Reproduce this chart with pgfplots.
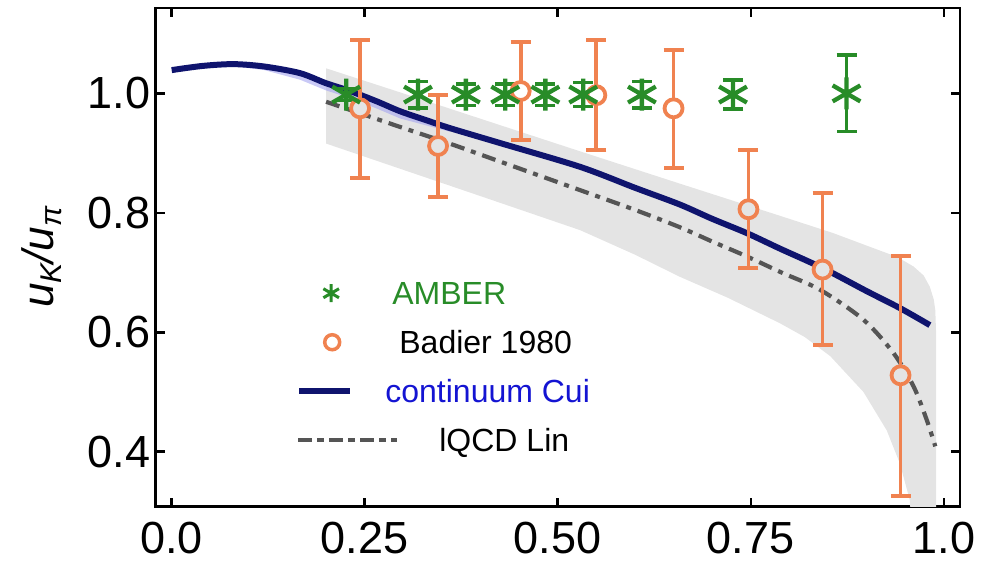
\documentclass[border=0pt]{standalone}
\usepackage{fontspec}
\setmainfont{Liberation Sans}
\usepackage{pgfplots}
\pgfplotsset{compat=1.18}
\definecolor{amber}{RGB}{40,140,40}
\definecolor{badier}{RGB}{240,130,80}
\definecolor{cuinavy}{RGB}{15,20,110}
\definecolor{cuitext}{RGB}{20,20,210}
\definecolor{bandgray}{RGB}{228,228,228}
\definecolor{lqcd}{RGB}{85,85,85}
\definecolor{bandblue}{RGB}{165,165,240}
\begin{document}
\begin{tikzpicture}
\useasboundingbox (-155.7pt,-57.3pt) rectangle (830.3pt,506.7pt);
\begin{axis}[
  at={(0pt,0pt)}, anchor=south west,
  scale only axis, width=804.3pt, height=498.7pt,
  xmin=-0.0207, xmax=1.021, ymin=0.308, ymax=1.143,
  axis line style={line width=2.7pt},
  tick align=inside, major tick length=9pt,
  every tick/.style={black, line width=2.5pt},
  xtick={0,0.25,0.5,0.75,1}, xticklabels={0.0,0.25,0.50,0.75,1.0},
  ytick={0.4,0.6,0.8,1.0}, yticklabels={0.4,0.6,0.8,1.0},
  ticklabel style={font=\fontsize{45}{50}\selectfont},
  xticklabel style={yshift=-12pt},
  yticklabel style={xshift=-2pt},
  ylabel={\fontsize{44}{44}\selectfont\itshape u\raisebox{-8pt}{\fontsize{30}{30}\selectfont K}/u\raisebox{-8pt}{\fontsize{30}{30}\selectfont π}},
  every axis y label/.style={at={(rel axis cs:-0.1414,0.5)}, rotate=90, anchor=center},
  legend style={at={(axis cs:0.161,0.685)}, anchor=north west, draw=none, fill=none,
    inner sep=0pt, row sep=26pt, column sep=0pt,
    nodes={inner sep=0pt, text height=23pt, text depth=0pt},
    font=\fontsize{32}{32}\selectfont},
  legend cell align=left,
]
% lQCD uncertainty band
\addplot[draw=none, fill=bandgray, forget plot] coordinates {
(0.2,0.916)(0.2,1.042)(0.3,1.000)(0.425,0.947)(0.529,0.903)(0.658,0.849)(0.788,0.795)(0.857,0.766)(0.917,0.737)(0.94,0.726)(0.961,0.710)(0.974,0.695)(0.982,0.676)(0.987,0.655)(0.989,0.637)(0.99,0.6)(0.99,0.28)
(0.958,0.28)(0.956,0.319)(0.943,0.381)(0.926,0.436)(0.896,0.500)(0.853,0.560)(0.82,0.592)(0.788,0.615)(0.72,0.658)(0.658,0.693)(0.6,0.730)(0.529,0.771)(0.4,0.828)(0.3,0.872)} --cycle;
% continuum uncertainty band
\addplot[draw=none, fill=bandblue, fill opacity=0.6, forget plot] coordinates {
(0.06,1.049)(0.12,1.045)(0.166,1.034)(0.2,1.017)(0.231,1.004)(0.265,0.987)(0.296,0.970)(0.36,0.946)
(0.36,0.936)(0.296,0.958)(0.265,0.975)(0.231,0.992)(0.2,1.005)(0.166,1.023)(0.12,1.039)} --cycle;
% lQCD Lin
\addplot[lqcd, line width=4.2pt, dash pattern=on 14pt off 7pt on 5pt off 7pt, smooth, forget plot] coordinates {
(0.2,0.986)(0.25,0.964)(0.3,0.942)(0.36,0.916)(0.425,0.886)(0.529,0.838)(0.6,0.805)(0.658,0.776)(0.7,0.752)(0.745,0.727)(0.79,0.700)(0.84,0.671)(0.896,0.621)(0.935,0.565)(0.961,0.509)(0.978,0.453)(0.989,0.409)};
% continuum Cui
\addplot[cuinavy, line width=6pt, smooth, forget plot] coordinates {
(0,1.039)(0.04,1.046)(0.08,1.049)(0.12,1.045)(0.166,1.034)(0.2,1.017)(0.231,1.004)(0.265,0.987)(0.296,0.970)(0.33,0.955)(0.36,0.942)(0.425,0.917)(0.529,0.877)(0.6,0.842)(0.658,0.814)(0.7,0.790)(0.745,0.766)(0.788,0.740)(0.844,0.707)(0.9,0.669)(0.944,0.640)(0.982,0.612)};
% Badier 1980 (points inside the band)
\addplot[badier, only marks, mark=*, mark size=9pt, line width=3.8pt,
  mark options={fill=bandgray, draw=badier, line width=3.8pt}, forget plot,
  error bars/.cd, y dir=both, y explicit,
  error bar style={line width=3.8pt, badier},
  error mark options={rotate=90, mark size=10pt, line width=3.8pt, badier}]
  table[x=x, y=y, y error plus=ep, y error minus=em] {
x y ep em
0.244 0.975 0.114 0.116
0.345 0.912 0.085 0.085
0.747 0.806 0.099 0.098
0.843 0.705 0.128 0.126
0.944 0.528 0.200 0.202
};
% Badier 1980 (points above the band)
\addplot[badier, only marks, mark=*, mark size=9pt, line width=3.8pt,
  mark options={fill=white, draw=badier, line width=3.8pt}, forget plot,
  error bars/.cd, y dir=both, y explicit,
  error bar style={line width=3.8pt, badier},
  error mark options={rotate=90, mark size=10pt, line width=3.8pt, badier}]
  table[x=x, y=y, y error plus=ep, y error minus=em] {
x y ep em
0.452 1.004 0.082 0.082
0.550 0.997 0.092 0.092
0.650 0.975 0.097 0.100
};
% AMBER
\addplot[amber, only marks, mark=asterisk, mark size=16pt, line width=4.3pt, forget plot,
  error bars/.cd, y dir=both, y explicit,
  error bar style={line width=3.6pt, amber},
  error mark options={rotate=90, mark size=10pt, line width=3.6pt, amber}]
  table[x=x, y=y, y error plus=e, y error minus=e] {
x y e
0.226 0.998 0.010
0.319 0.998 0.022
0.381 0.998 0.018
0.432 0.998 0.018
0.484 0.998 0.018
0.533 0.998 0.020
0.609 0.998 0.022
0.727 0.998 0.024
0.874 1.000 0.064
};
% legend
\addlegendimage{legend image code/.code={\path (0pt,0pt) (87pt,0pt);
  \draw[amber, line width=3pt] plot[only marks, mark=asterisk, mark size=9pt] coordinates {(33pt,0pt)};}}
\addlegendentry{\hspace{7pt}\textcolor{amber}{AMBER}}
\addlegendimage{legend image code/.code={\path (0pt,0pt) (87pt,0pt);
  \draw[badier, line width=3.5pt] (34pt,0pt) circle (7.5pt);}}
\addlegendentry{\hspace{14pt}Badier 1980}
\addlegendimage{legend image code/.code={\path (0pt,0pt) (87pt,0pt);
  \draw[cuinavy, line width=6pt] (1pt,0pt) -- (52pt,0pt);}}
\addlegendentry{\textcolor{cuitext}{continuum Cui}}
\addlegendimage{legend image code/.code={\path (0pt,0pt) (87pt,0pt);
  \draw[overlay, lqcd, line width=4pt, dash pattern=on 14pt off 5pt on 7pt off 5pt] (0pt,0pt) -- (99pt,0pt);}}
\addlegendentry{\hspace{54pt}lQCD Lin}
\end{axis}
\end{tikzpicture}
\end{document}
